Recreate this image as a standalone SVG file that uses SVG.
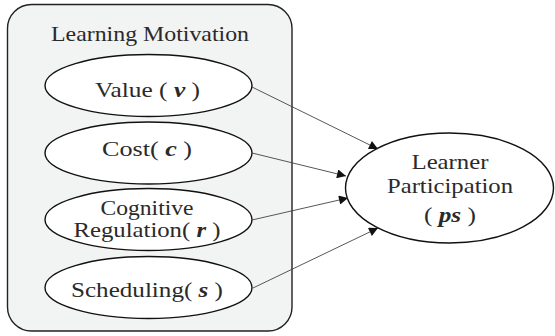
<svg xmlns="http://www.w3.org/2000/svg" width="555" height="336" viewBox="0 0 555 336">
<defs>
<marker id="ah" viewBox="0 0 10 10" refX="10" refY="5" markerWidth="12" markerHeight="9" markerUnits="userSpaceOnUse" orient="auto">
<path d="M0,0L10,5L0,10z" fill="#111"/>
</marker>
</defs>
<g id="group-learning-motivation">
<rect x="7.5" y="4.5" width="284.5" height="326.5" rx="24" fill="#f2f3f3" stroke="#222" stroke-width="1.4"/>
<text x="150" y="41" font-family="Liberation Serif" font-size="21" fill="#2a2a2a" text-anchor="middle" textLength="198" lengthAdjust="spacingAndGlyphs">Learning Motivation</text>
</g>
<g id="value">
<ellipse cx="148.5" cy="85.5" rx="103.5" ry="31" fill="#fff" stroke="#111" stroke-width="1.4"/>
<text x="147.5" y="97" font-family="Liberation Serif" font-size="21" fill="#2a2a2a" text-anchor="middle" textLength="105" lengthAdjust="spacingAndGlyphs">Value ( <tspan font-weight="bold" font-style="italic">v</tspan> )</text>
</g>
<g id="cost">
<ellipse cx="148.5" cy="153" rx="103.5" ry="31" fill="#fff" stroke="#111" stroke-width="1.4"/>
<text x="147" y="156" font-family="Liberation Serif" font-size="21" fill="#2a2a2a" text-anchor="middle" textLength="90" lengthAdjust="spacingAndGlyphs">Cost( <tspan font-weight="bold" font-style="italic">c</tspan> )</text>
</g>
<g id="cognitive-regulation">
<ellipse cx="148.5" cy="219.5" rx="103.5" ry="31" fill="#fff" stroke="#111" stroke-width="1.4"/>
<text x="147" y="215" font-family="Liberation Serif" font-size="21" fill="#2a2a2a" text-anchor="middle" textLength="93" lengthAdjust="spacingAndGlyphs">Cognitive</text>
<text x="147" y="237" font-family="Liberation Serif" font-size="21" fill="#2a2a2a" text-anchor="middle" textLength="147" lengthAdjust="spacingAndGlyphs">Regulation( <tspan font-weight="bold" font-style="italic">r</tspan> )</text>
</g>
<g id="scheduling">
<ellipse cx="148.5" cy="287.5" rx="103.5" ry="31" fill="#fff" stroke="#111" stroke-width="1.4"/>
<text x="147" y="297" font-family="Liberation Serif" font-size="21" fill="#2a2a2a" text-anchor="middle" textLength="152" lengthAdjust="spacingAndGlyphs">Scheduling( <tspan font-weight="bold" font-style="italic">s</tspan> )</text>
</g>
<g id="learner-participation">
<ellipse cx="449.5" cy="188" rx="104" ry="55" fill="#fff" stroke="#111" stroke-width="1.4"/>
<text x="450" y="169" font-family="Liberation Serif" font-size="21" fill="#2a2a2a" text-anchor="middle" textLength="77" lengthAdjust="spacingAndGlyphs">Learner</text>
<text x="450" y="193" font-family="Liberation Serif" font-size="21" fill="#2a2a2a" text-anchor="middle" textLength="126" lengthAdjust="spacingAndGlyphs">Participation</text>
<text x="450" y="222" font-family="Liberation Serif" font-size="21" fill="#2a2a2a" text-anchor="middle" textLength="52" lengthAdjust="spacingAndGlyphs">( <tspan font-weight="bold" font-style="italic">ps</tspan> )</text>
</g>
<g id="connectors" stroke="#444" stroke-width="0.9" fill="none" marker-end="url(#ah)">
<line x1="252" y1="87" x2="378" y2="149"/>
<line x1="252" y1="153" x2="346" y2="176"/>
<line x1="252" y1="220" x2="348" y2="198"/>
<line x1="253" y1="288" x2="378" y2="228"/>
</g>
</svg>
